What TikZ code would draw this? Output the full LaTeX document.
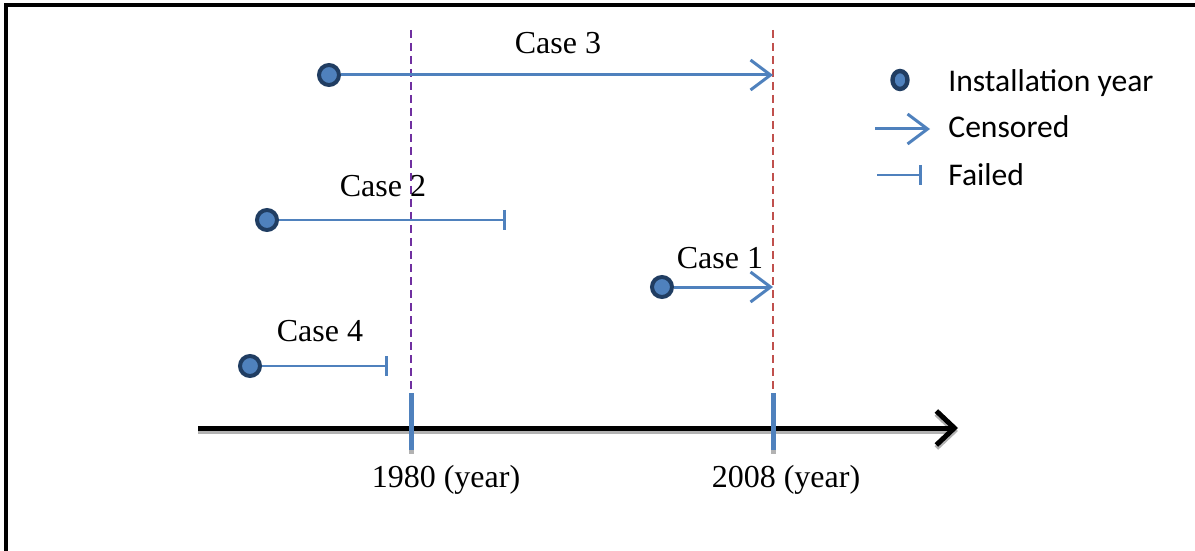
\documentclass[tikz,border=0pt]{standalone}
\usepackage{fontspec}
\setmainfont{Liberation Serif}
\newfontfamily\legendfont{Carlito}
\usetikzlibrary{arrows.meta,shapes.geometric}
\definecolor{caseblue}{HTML}{4F81BD}
\definecolor{dotrim}{HTML}{203D62}
\definecolor{lightpurple}{HTML}{7030A0}
\definecolor{lightred}{HTML}{C0504D}
\begin{document}
\begin{tikzpicture}[x=0.5pt, y=-0.5pt,
  inst/.style={draw=dotrim, fill=caseblue, circle, line width=2pt, inner sep=0pt, minimum size=10pt},
  censored/.style={draw=caseblue, line width=1.5pt, -{Straight Barb[length=10pt, width=15pt, line width=1.5pt]}},
  failed/.style={draw=caseblue, line width=1pt, -{Bar[width=10pt, line width=1.5pt]}},
  yearline/.style={dashed, line width=1pt, dash pattern=on 4pt off 2.5pt},
  caselab/.style={font=\fontsize{16}{19}\selectfont, anchor=base, inner sep=0pt},
  leglab/.style={font=\legendfont\fontsize{15.8}{19}\selectfont, anchor=base west, inner sep=0pt}]
\useasboundingbox (0,0) rectangle (1195,551);
\draw[line width=2pt] (6,600) -- (6,5) -- (1200,5);

% time axis
\coordinate (ax0) at (198,428);
\coordinate (ax1) at (958,428);
\draw[gray!60, line width=2.5pt, -{Straight Barb[length=9pt, width=17pt, line width=2.5pt]}] ([yshift=-1.5pt]ax0) -- ([yshift=-1.5pt]ax1);
\draw[line width=2.5pt, -{Straight Barb[length=9pt, width=17pt, line width=2.5pt]}] (ax0) -- (ax1);

% years
\coordinate (y80top) at (411,30);
\coordinate (y80) at (411,393);
\coordinate (y08top) at (773,30);
\coordinate (y08) at (773,393);
\draw[yearline, lightpurple] (y80top) -- (y80);
\draw[yearline, lightred] (y08top) -- (y08);
\draw[gray!60, line width=2.5pt] (411,445) -- (411,454);
\draw[gray!60, line width=2.5pt] (773,445) -- (773,454);
\draw[caseblue, line width=2.5pt] (y80) -- (411,450);
\draw[caseblue, line width=2.5pt] (y08) -- (773,450);
\node[caselab] (lab80) at (446,487) {1980 (year)};
\node[caselab] (lab08) at (786,487) {2008 (year)};

% cases
\node (c3) at (329,75) [inst] {};
\node (c2) at (267,220) [inst] {};
\node (c1) at (662,287) [inst] {};
\node (c4) at (250,366) [inst] {};
\coordinate (e3) at (773,75);
\coordinate (e2) at (506,220);
\coordinate (e1) at (773,287);
\coordinate (e4) at (388,366);
\draw[censored] (c3) -- (e3);
\draw[failed] (c2) -- (e2);
\draw[censored] (c1) -- (e1);
\draw[failed] (c4) -- (e4);
\node[caselab] (l3) at (558,54) {Case 3};
\node[caselab] (l2) at (383,197) {Case 2};
\node[caselab] (l1) at (720,269) {Case 1};
\node[caselab] (l4) at (320,341) {Case 4};

% legend
\node (k1) at (900,80) [draw=dotrim, fill=caseblue, ellipse, line width=2.2pt, inner sep=0pt, minimum width=7.5pt, minimum height=9pt] {};
\coordinate (k2a) at (875,129);
\coordinate (k2b) at (930,129);
\coordinate (k3a) at (877,175);
\coordinate (k3b) at (922,175);
\draw[censored] (k2a) -- (k2b);
\draw[failed] (k3a) -- (k3b);
\node[leglab] (t1) at (948,92) {Installation year};
\node[leglab] (t2) at (948,138) {Censored};
\node[leglab] (t3) at (948,185) {Failed};
\end{tikzpicture}
\end{document}
